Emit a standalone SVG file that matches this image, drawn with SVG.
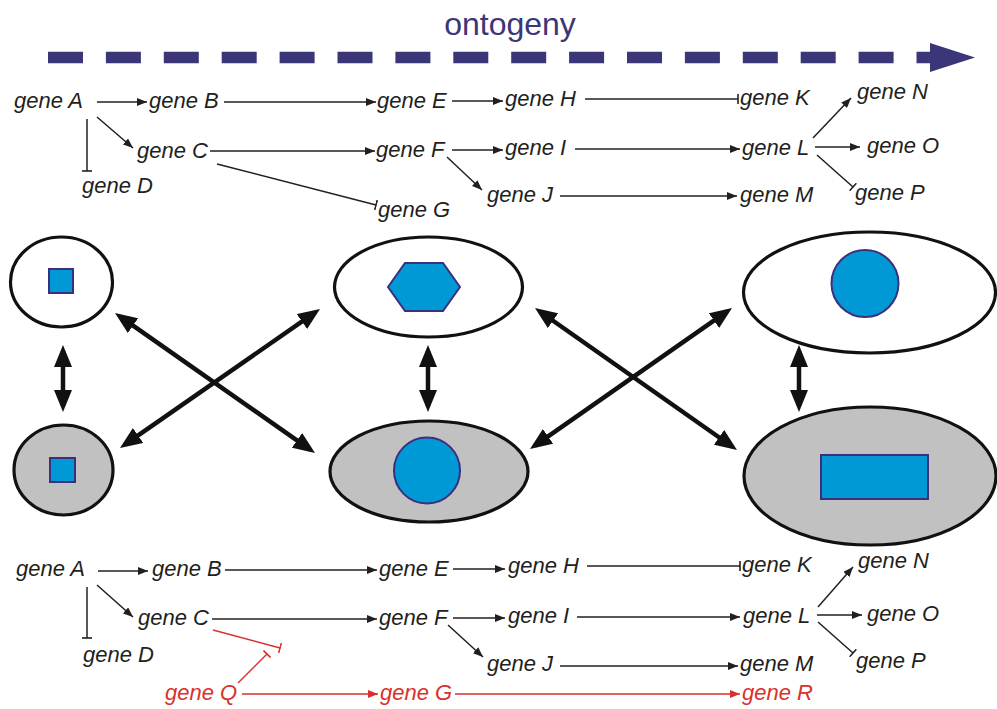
<svg xmlns="http://www.w3.org/2000/svg" width="997" height="709" viewBox="0 0 997 709">
  <style>
    .g { font-family: "Liberation Sans", Arial, sans-serif; font-style: italic; font-size: 22px; fill: #231f20; }
    .red { fill: #d9312b; }
    .ln { fill: none; stroke: #231f20; stroke-width: 1.5; }
    .lr { fill: none; stroke: #d9312b; stroke-width: 1.5; }
    .big { fill: none; stroke: #111; stroke-width: 4.5; }
    .cell { stroke: #111; stroke-width: 3.2; }
    .white { fill: #fff; }
    .grey { fill: #c1c1c1; }
    .nuc { fill: #0099d5; stroke: #3b2f7e; stroke-width: 2; }
    .title { font-family: "Liberation Sans", Arial, sans-serif; font-size: 32px; fill: #3b3678; }
  </style>
  <defs>
    <marker id="ah" viewBox="0 0 10 8" refX="10" refY="4" markerWidth="10" markerHeight="8" markerUnits="userSpaceOnUse" orient="auto">
      <path d="M0,0 L10,4 L0,8 z" fill="#231f20"/>
    </marker>
    <marker id="ahr" viewBox="0 0 10 8" refX="10" refY="4" markerWidth="10" markerHeight="8" markerUnits="userSpaceOnUse" orient="auto">
      <path d="M0,0 L10,4 L0,8 z" fill="#d9312b"/>
    </marker>
    <marker id="tee" viewBox="0 0 2 10" refX="1" refY="5" markerWidth="2" markerHeight="10" markerUnits="userSpaceOnUse" orient="auto">
      <path d="M1,0 V10" stroke="#231f20" stroke-width="1.6"/>
    </marker>
    <marker id="teer" viewBox="0 0 2 10" refX="1" refY="5" markerWidth="2" markerHeight="10" markerUnits="userSpaceOnUse" orient="auto">
      <path d="M1,0 V10" stroke="#d9312b" stroke-width="1.6"/>
    </marker>
    <marker id="bh" viewBox="0 0 22 18" refX="16" refY="9" markerWidth="22" markerHeight="18" markerUnits="userSpaceOnUse" orient="auto-start-reverse">
      <path d="M0,0 L22,9 L0,18 z" fill="#111"/>
    </marker>
  </defs>

  <rect width="997" height="709" fill="#fff"/>

  <!-- developmental time axis -->
  <g id="ontogeny">
    <text class="title" x="510" y="35" text-anchor="middle">ontogeny</text>
    <line x1="48" y1="57.5" x2="933" y2="57.5" stroke="#3b3678" stroke-width="11.5" stroke-dasharray="35 22.9"/>
    <polygon points="930,43 975,57.5 930,72" fill="#3b3678"/>
  </g>

  <!-- upper gene network -->
  <g id="net-top">
    <g id="t-geneA"><text class="g" x="14" y="108">gene A</text></g>
    <g id="t-geneB"><text class="g" x="149" y="108">gene B</text></g>
    <g id="t-geneE"><text class="g" x="377" y="108">gene E</text></g>
    <g id="t-geneH"><text class="g" x="505" y="106">gene H</text></g>
    <g id="t-geneK"><text class="g" x="740" y="105">gene K</text></g>
    <g id="t-geneN"><text class="g" x="857" y="99">gene N</text></g>
    <g id="t-geneC"><text class="g" x="137" y="158">gene C</text></g>
    <g id="t-geneF"><text class="g" x="376" y="157">gene F</text></g>
    <g id="t-geneI"><text class="g" x="505" y="155">gene I</text></g>
    <g id="t-geneL"><text class="g" x="742" y="155">gene L</text></g>
    <g id="t-geneO"><text class="g" x="867" y="153">gene O</text></g>
    <g id="t-geneD"><text class="g" x="82" y="193">gene D</text></g>
    <g id="t-geneG"><text class="g" x="378" y="217">gene G</text></g>
    <g id="t-geneJ"><text class="g" x="487" y="202">gene J</text></g>
    <g id="t-geneM"><text class="g" x="740" y="202">gene M</text></g>
    <g id="t-geneP"><text class="g" x="855" y="200">gene P</text></g>
  </g>
  <g id="net-top-links">
    <path class="ln" d="M97,102 H147" marker-end="url(#ah)"/>
    <path class="ln" d="M224,102 H376" marker-end="url(#ah)"/>
    <path class="ln" d="M452,101 H503" marker-end="url(#ah)"/>
    <path class="ln" d="M585,99 H738" marker-end="url(#tee)"/>
    <path class="ln" d="M97,117 L133,148" marker-end="url(#ah)"/>
    <path class="ln" d="M87,119 V171" marker-end="url(#tee)"/>
    <path class="ln" d="M210,151 H375" marker-end="url(#ah)"/>
    <path class="ln" d="M217,164 L376,205" marker-end="url(#tee)"/>
    <path class="ln" d="M452,150 H503" marker-end="url(#ah)"/>
    <path class="ln" d="M447,157 L482,190" marker-end="url(#ah)"/>
    <path class="ln" d="M575,149 H740" marker-end="url(#ah)"/>
    <path class="ln" d="M560,196 H737" marker-end="url(#ah)"/>
    <path class="ln" d="M813,138 L851,98" marker-end="url(#ah)"/>
    <path class="ln" d="M815,147 H860" marker-end="url(#ah)"/>
    <path class="ln" d="M817,155 L853,187" marker-end="url(#tee)"/>
  </g>

  <!-- cell morphologies -->
  <g id="cell-tl">
    <ellipse class="cell white" cx="61.5" cy="282" rx="51" ry="45"/>
    <rect class="nuc" x="49" y="269" width="24" height="24"/>
  </g>
  <g id="cell-bl">
    <ellipse class="cell grey" cx="63.5" cy="470" rx="49.5" ry="45"/>
    <rect class="nuc" x="50" y="458" width="25" height="24"/>
  </g>
  <g id="cell-tm">
    <ellipse class="cell white" cx="428.5" cy="287" rx="94" ry="50"/>
    <polygon class="nuc" points="388,287 405,263 443,263 460,287 443,311 405,311"/>
  </g>
  <g id="cell-bm">
    <ellipse class="cell grey" cx="429" cy="471.5" rx="99" ry="50.5"/>
    <circle class="nuc" cx="427" cy="470.5" r="33"/>
  </g>
  <g id="cell-tr">
    <ellipse class="cell white" cx="869.5" cy="292.5" rx="126" ry="60.5"/>
    <circle class="nuc" cx="865" cy="283.5" r="33.5"/>
  </g>
  <g id="cell-br">
    <ellipse class="cell grey" cx="870" cy="476" rx="126" ry="69"/>
    <rect class="nuc" x="821" y="455" width="107" height="44"/>
  </g>

  <!-- transitions between cell states -->
  <g id="transitions">
    <line class="big" x1="63" y1="351" x2="63" y2="406" marker-start="url(#bh)" marker-end="url(#bh)"/>
    <line class="big" x1="428" y1="351" x2="428" y2="406" marker-start="url(#bh)" marker-end="url(#bh)"/>
    <line class="big" x1="799" y1="351" x2="799" y2="406" marker-start="url(#bh)" marker-end="url(#bh)"/>
    <line class="big" x1="119.9" y1="316.4" x2="310.1" y2="449.6" marker-start="url(#bh)" marker-end="url(#bh)"/>
    <line class="big" x1="124.9" y1="444.6" x2="315.1" y2="312.4" marker-start="url(#bh)" marker-end="url(#bh)"/>
    <line class="big" x1="539.9" y1="311.5" x2="732.1" y2="446.5" marker-start="url(#bh)" marker-end="url(#bh)"/>
    <line class="big" x1="534.9" y1="445.6" x2="727.1" y2="311.4" marker-start="url(#bh)" marker-end="url(#bh)"/>
  </g>

  <!-- lower gene network -->
  <g id="net-bottom">
    <g id="b-geneA"><text class="g" x="16" y="576">gene A</text></g>
    <g id="b-geneB"><text class="g" x="152" y="576">gene B</text></g>
    <g id="b-geneE"><text class="g" x="379" y="576">gene E</text></g>
    <g id="b-geneH"><text class="g" x="508" y="573">gene H</text></g>
    <g id="b-geneK"><text class="g" x="742" y="572">gene K</text></g>
    <g id="b-geneN"><text class="g" x="858" y="568">gene N</text></g>
    <g id="b-geneC"><text class="g" x="138" y="625">gene C</text></g>
    <g id="b-geneF"><text class="g" x="379" y="625">gene F</text></g>
    <g id="b-geneI"><text class="g" x="508" y="623">gene I</text></g>
    <g id="b-geneL"><text class="g" x="743" y="623">gene L</text></g>
    <g id="b-geneO"><text class="g" x="867" y="621">gene O</text></g>
    <g id="b-geneD"><text class="g" x="83" y="662">gene D</text></g>
    <g id="b-geneJ"><text class="g" x="487" y="671">gene J</text></g>
    <g id="b-geneM"><text class="g" x="740" y="671">gene M</text></g>
    <g id="b-geneP"><text class="g" x="856" y="668">gene P</text></g>
    <g id="b-geneQ"><text class="g red" x="165" y="700">gene Q</text></g>
    <g id="b-geneG"><text class="g red" x="380" y="700">gene G</text></g>
    <g id="b-geneR"><text class="g red" x="742" y="700">gene R</text></g>
  </g>
  <g id="net-bottom-links">
    <path class="ln" d="M98,571 H148" marker-end="url(#ah)"/>
    <path class="ln" d="M225,570 H377" marker-end="url(#ah)"/>
    <path class="ln" d="M453,569 H505" marker-end="url(#ah)"/>
    <path class="ln" d="M587,566 H740" marker-end="url(#tee)"/>
    <path class="ln" d="M97,585 L133,617" marker-end="url(#ah)"/>
    <path class="ln" d="M87,587 V638" marker-end="url(#tee)"/>
    <path class="ln" d="M212,619 H377" marker-end="url(#ah)"/>
    <path class="ln" d="M453,618 H505" marker-end="url(#ah)"/>
    <path class="ln" d="M448,625 L483,657" marker-end="url(#ah)"/>
    <path class="ln" d="M577,617 H740" marker-end="url(#ah)"/>
    <path class="ln" d="M560,666 H738" marker-end="url(#ah)"/>
    <path class="ln" d="M818,607 L853,567" marker-end="url(#ah)"/>
    <path class="ln" d="M817,615 H862" marker-end="url(#ah)"/>
    <path class="ln" d="M818,622 L853,653" marker-end="url(#tee)"/>
    <path class="lr" d="M213,630 L280,648" marker-end="url(#teer)"/>
    <path class="lr" d="M238,683 L267,654" marker-end="url(#teer)"/>
    <path class="lr" d="M242,694 H378" marker-end="url(#ahr)"/>
    <path class="lr" d="M455,694 H740" marker-end="url(#ahr)"/>
  </g>
</svg>
